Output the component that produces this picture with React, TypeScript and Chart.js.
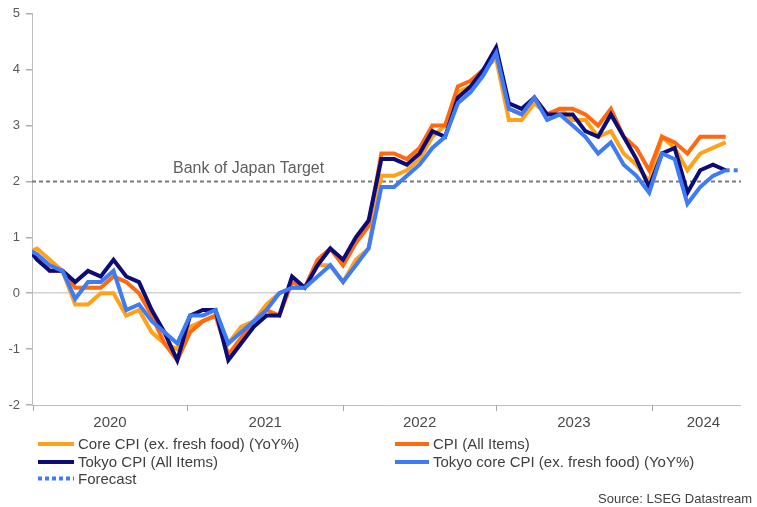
import React, { useEffect, useRef } from "react";
import { Chart, registerables } from "chart.js";

Chart.register(...registerables);

// Monthly observations, Dec 2019 .. Aug 2024 (Dec 2019 sits just left of the axis and is clipped)
const months = [
  "2019-12",
  "2020-01", "2020-02", "2020-03", "2020-04", "2020-05", "2020-06", "2020-07", "2020-08", "2020-09", "2020-10", "2020-11", "2020-12",
  "2021-01", "2021-02", "2021-03", "2021-04", "2021-05", "2021-06", "2021-07", "2021-08", "2021-09", "2021-10", "2021-11", "2021-12",
  "2022-01", "2022-02", "2022-03", "2022-04", "2022-05", "2022-06", "2022-07", "2022-08", "2022-09", "2022-10", "2022-11", "2022-12",
  "2023-01", "2023-02", "2023-03", "2023-04", "2023-05", "2023-06", "2023-07", "2023-08", "2023-09", "2023-10", "2023-11", "2023-12",
  "2024-01", "2024-02", "2024-03", "2024-04", "2024-05", "2024-06", "2024-07", "2024-08",
];

const coreCPI = [
  0.7,
  0.8, 0.6, 0.4, -0.2, -0.2, 0.0, 0.0, -0.4, -0.3, -0.7, -0.9, -1.0,
  -0.6, -0.5, -0.4, -0.9, -0.6, -0.5, -0.2, 0.0, 0.1, 0.1, 0.5, 0.5,
  0.2, 0.6, 0.8, 2.1, 2.1, 2.2, 2.4, 2.8, 3.0, 3.6, 3.7, 4.0,
  4.2, 3.1, 3.1, 3.4, 3.2, 3.3, 3.1, 3.1, 2.8, 2.9, 2.5, 2.3,
  2.0, 2.8, 2.6, 2.2, 2.5, 2.6, 2.7, null,
];

const allItemsCPI = [
  0.8,
  0.7, 0.4, 0.4, 0.1, 0.1, 0.1, 0.3, 0.2, 0.0, -0.4, -0.9, -1.2,
  -0.7, -0.5, -0.4, -1.1, -0.8, -0.5, -0.3, -0.4, 0.2, 0.1, 0.6, 0.8,
  0.5, 0.9, 1.2, 2.5, 2.5, 2.4, 2.6, 3.0, 3.0, 3.7, 3.8, 4.0,
  4.3, 3.3, 3.2, 3.5, 3.2, 3.3, 3.3, 3.2, 3.0, 3.3, 2.8, 2.6,
  2.2, 2.8, 2.7, 2.5, 2.8, 2.8, 2.8, null,
];

const tokyoCPI = [
  0.9,
  0.6, 0.4, 0.4, 0.2, 0.4, 0.3, 0.6, 0.3, 0.2, -0.3, -0.7, -1.2,
  -0.4, -0.3, -0.3, -1.2, -0.9, -0.6, -0.4, -0.4, 0.3, 0.1, 0.5, 0.8,
  0.6, 1.0, 1.3, 2.4, 2.4, 2.3, 2.5, 2.9, 2.8, 3.5, 3.7, 4.0,
  4.4, 3.4, 3.3, 3.5, 3.2, 3.2, 3.2, 2.9, 2.8, 3.2, 2.8, 2.4,
  1.9, 2.5, 2.6, 1.8, 2.2, 2.3, 2.2, null,
];

const tokyoCoreCPI = [
  0.8,
  0.7, 0.5, 0.4, -0.1, 0.2, 0.2, 0.4, -0.3, -0.2, -0.5, -0.7, -0.9,
  -0.4, -0.4, -0.3, -0.9, -0.7, -0.5, -0.3, 0.0, 0.1, 0.1, 0.3, 0.5,
  0.2, 0.5, 0.8, 1.9, 1.9, 2.1, 2.3, 2.6, 2.8, 3.4, 3.6, 3.9,
  4.3, 3.3, 3.2, 3.5, 3.1, 3.2, 3.0, 2.8, 2.5, 2.7, 2.3, 2.1,
  1.8, 2.5, 2.4, 1.6, 1.9, 2.1, 2.2, null,
];

const forecast = [
  null,
  null, null, null, null, null, null, null, null, null, null, null, null,
  null, null, null, null, null, null, null, null, null, null, null, null,
  null, null, null, null, null, null, null, null, null, null, null, null,
  null, null, null, null, null, null, null, null, null, null, null, null,
  null, null, null, null, null, null, 2.2, 2.2,
];

// Year axis: boundary positions (in months from Jan 2020) and labels
const yearLabels = ["2020", "2021", "2022", "2023", "2024"];
const yearBoundaries = [-0.35, 11.8, 24.0, 36.0, 48.2, 56.3];
const yTicks = [-2, -1, 0, 1, 2, 3, 4, 5];
const targetValue = 2;
const targetLabel = "Bank of Japan Target";
const sourceLabel = "Source: LSEG Datastream";

const COLORS = {
  core: "#FFA21A",
  all: "#FF6A10",
  tokyo: "#0C0C78",
  tokyoCore: "#3D7BF7",
};

const legendItems = [
  { label: "Core CPI (ex. fresh food) (YoY%)", color: COLORS.core, dash: [] as number[], col: 0, row: 0 },
  { label: "CPI (All Items)", color: COLORS.all, dash: [] as number[], col: 1, row: 0 },
  { label: "Tokyo CPI (All Items)", color: COLORS.tokyo, dash: [] as number[], col: 0, row: 1 },
  { label: "Tokyo core CPI (ex. fresh food) (YoY%)", color: COLORS.tokyoCore, dash: [] as number[], col: 1, row: 1 },
  { label: "Forecast", color: COLORS.tokyoCore, dash: [4, 3], col: 0, row: 2 },
];

const FONT = "'Liberation Sans', Arial, Helvetica, sans-serif";

const toPoints = (arr: (number | null)[]) =>
  arr.map((v, i) => ({ x: i - 1, y: v }));

const decorPlugin = {
  id: "decor",
  beforeDatasetsDraw(chart: any) {
    const { ctx, chartArea, scales } = chart;
    const y = scales.y.getPixelForValue(targetValue);
    ctx.save();
    ctx.strokeStyle = "#7a7a7a";
    ctx.lineWidth = 2;
    ctx.setLineDash([4, 3]);
    ctx.beginPath();
    ctx.moveTo(chartArea.left, y);
    ctx.lineTo(chartArea.right, y);
    ctx.stroke();
    ctx.setLineDash([]);
    ctx.fillStyle = "#5f5f5f";
    ctx.font = `16px ${FONT}`;
    ctx.textAlign = "left";
    ctx.textBaseline = "alphabetic";
    ctx.fillText(targetLabel, chartArea.left + 141, y - 8);
    ctx.restore();
  },
  afterDraw(chart: any) {
    const { ctx, chartArea, scales } = chart;
    const xs = scales.x;
    const bottom = chartArea.bottom;
    ctx.save();
    // x axis line
    ctx.strokeStyle = "#bdbdbd";
    ctx.lineWidth = 1;
    ctx.beginPath();
    ctx.moveTo(chartArea.left, bottom + 0.5);
    ctx.lineTo(chartArea.right, bottom + 0.5);
    ctx.stroke();
    // year tick marks
    ctx.strokeStyle = "#a8a8a8";
    for (let k = 0; k < yearBoundaries.length - 1; k++) {
      const px = Math.round(xs.getPixelForValue(yearBoundaries[k])) + 0.5;
      ctx.beginPath();
      ctx.moveTo(px, bottom);
      ctx.lineTo(px, bottom + 6);
      ctx.stroke();
    }
    // year labels
    ctx.fillStyle = "#4a4a4a";
    ctx.font = `15px ${FONT}`;
    ctx.textAlign = "center";
    ctx.textBaseline = "middle";
    yearLabels.forEach((lab, k) => {
      const mid = (yearBoundaries[k] + yearBoundaries[k + 1]) / 2;
      ctx.fillText(lab, xs.getPixelForValue(mid), bottom + 18);
    });
    // legend
    const colX = [38, 395];
    const swatchW = [36, 34];
    const rowY = [444, 462, 478.5];
    ctx.textAlign = "left";
    ctx.font = `15px ${FONT}`;
    legendItems.forEach((it) => {
      const x0 = colX[it.col];
      const yy = rowY[it.row];
      ctx.strokeStyle = it.color;
      ctx.lineWidth = 4;
      ctx.setLineDash(it.dash);
      ctx.beginPath();
      ctx.moveTo(x0, yy);
      ctx.lineTo(x0 + swatchW[it.col], yy);
      ctx.stroke();
      ctx.setLineDash([]);
      ctx.fillStyle = "#404040";
      ctx.fillText(it.label, x0 + swatchW[it.col] + 4, yy + 1);
    });
    // source
    ctx.font = `13px ${FONT}`;
    ctx.textAlign = "right";
    ctx.fillStyle = "#404040";
    ctx.fillText(sourceLabel, 752, 499);
    ctx.restore();
  },
};

export default function App() {
  const canvasRef = useRef<HTMLCanvasElement | null>(null);

  useEffect(() => {
    const canvas = canvasRef.current;
    if (!canvas) return;
    const line = (label: string, data: (number | null)[], color: string, order: number, dash: number[] = []) => ({
      label,
      data: toPoints(data),
      borderColor: color,
      backgroundColor: color,
      borderWidth: 4,
      borderDash: dash,
      pointRadius: 0,
      pointHoverRadius: 0,
      tension: 0,
      fill: false,
      spanGaps: false,
      clip: 0,
      order,
    });
    const chart = new Chart(canvas, {
      type: "line",
      data: {
        datasets: [
          line("Core CPI (ex. fresh food) (YoY%)", coreCPI, COLORS.core, 4),
          line("CPI (All Items)", allItemsCPI, COLORS.all, 3),
          line("Tokyo CPI (All Items)", tokyoCPI, COLORS.tokyo, 2),
          line("Tokyo core CPI (ex. fresh food) (YoY%)", tokyoCoreCPI, COLORS.tokyoCore, 1),
          line("Forecast", forecast, COLORS.tokyoCore, 0, [4, 4]),
        ] as any,
      },
      options: {
        responsive: false,
        maintainAspectRatio: false,
        devicePixelRatio: 1,
        animation: false,
        events: [],
        layout: { padding: { left: 0, right: 16, top: 11, bottom: 102 } },
        plugins: {
          legend: { display: false },
          tooltip: { enabled: false },
          title: { display: false },
        },
        scales: {
          x: {
            type: "linear",
            min: -0.39,
            max: 55.2,
            display: false,
          },
          y: {
            type: "linear",
            min: yTicks[0],
            max: yTicks[yTicks.length - 1],
            afterBuildTicks: (s: any) => {
              s.ticks = yTicks.map((v) => ({ value: v }));
            },
            afterFit: (s: any) => {
              s.width = 32;
            },
            ticks: {
              color: "#595959",
              padding: 6,
              font: { family: FONT, size: 13 },
            },
            grid: {
              color: (c: any) => (c.tick && c.tick.value === 0 ? "#d2d2d2" : "rgba(0,0,0,0)"),
              lineWidth: 1.5,
              tickColor: "#b0b0b0",
              tickLength: 6,
              drawTicks: true,
            },
            border: { display: true, color: "#bdbdbd", width: 1 },
          },
        },
      },
      plugins: [decorPlugin],
    } as any);
    return () => chart.destroy();
  }, []);

  return (
    <div style={{ position: "absolute", left: 0, top: 0, width: 757, height: 507, background: "#fff" }}>
      <canvas ref={canvasRef} width={757} height={507} style={{ width: 757, height: 507, display: "block" }} />
    </div>
  );
}
